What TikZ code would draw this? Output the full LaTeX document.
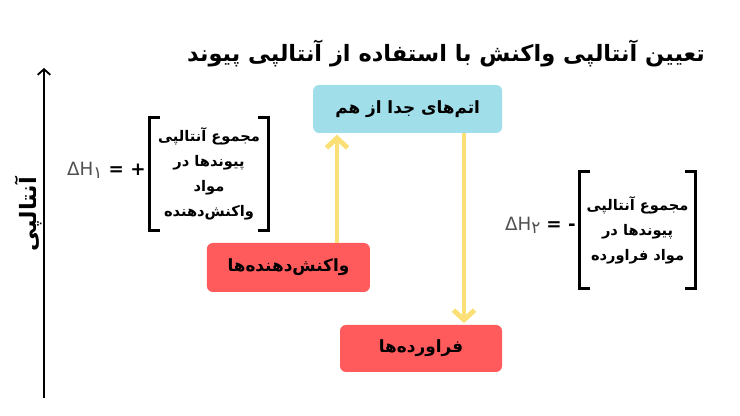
\documentclass[tikz,border=0pt]{standalone}
\usepackage{fontspec}
\setmainfont{DejaVu Sans}
\newfontfamily\arabicfont[Script=Arabic]{DejaVu Sans}
\TeXXeTstate=1
\usetikzlibrary{arrows,arrows.meta}

\definecolor{atomblue}{RGB}{160,222,233}
\definecolor{boxred}{RGB}{255,90,92}
\definecolor{arrowyellow}{RGB}{250,224,118}
\definecolor{deltagray}{RGB}{80,80,80}

\tikzset{
  statebox/.style={rounded corners=0.15cm, inner sep=0pt, align=center,
    font=\arabicfont\bfseries\fontsize{12}{14}\selectfont},
  sumtext/.style={inner sep=0pt, align=center,
    font=\arabicfont\bfseries\fontsize{10.4}{17.8}\selectfont},
  bracket/.style={line width=2.2pt},
  energy/.style={->, >={Straight Barb[length=7pt,width=15pt]}, line width=3.5pt, color=arrowyellow},
  deltah/.style={inner sep=0pt, font=\fontsize{13}{15}\selectfont}
}

\begin{document}
\begin{tikzpicture}
          \useasboundingbox (0,0) rectangle (18.5,10.4);
          \node[font=\arabicfont\bfseries\fontsize{16}{19}\selectfont] (title) at (11.15,9.05) {\beginR تعیین آنتالپی واکنش با استفاده از آنتالپی پیوند\endR};

          % energy axis
          \coordinate (axisbot) at (1.1,0.45);
          \coordinate (axistop) at (1.1,8.7);
          \draw[->, >={Straight Barb[length=4pt,width=9pt]}, line width=1.3pt] (axisbot) -- (axistop);
          \node[rotate=90, font=\arabicfont\bfseries\fontsize{16}{18}\selectfont] (axislabel) at (0.72,5.05) {\beginR آنتالپی\endR};

          % levels
          \node[statebox, fill=atomblue, minimum width=4.725cm, minimum height=1.2cm] (atoms) at (10.19,7.675) {\beginR اتم‌های جدا از هم\endR};
          \node[statebox, fill=boxred, minimum width=4.075cm, minimum height=1.225cm] (react) at (7.21,3.7125) {\beginR واکنش‌دهنده‌ها\endR};
          \node[statebox, fill=boxred, minimum width=4.05cm, minimum height=1.175cm] (prod) at (10.525,1.6875) {\beginR فراورده‌ها\endR};

          \coordinate (upx) at (8.425,0);
          \coordinate (downx) at (11.6,0);
          \draw[energy] (react.north -| upx) -- ([yshift=-1pt]atoms.south -| upx);
          \draw[energy] (atoms.south -| downx) -- ([yshift=1pt]prod.north -| downx);

          % bond enthalpy sums
          \node[sumtext, minimum width=2.95cm, minimum height=2.8cm] (sumreact) at (5.225,6.05) {\beginR مجموع آنتالپی\endR\\\beginR پیوندها در\endR\\\beginR مواد\endR\\\beginR واکنش‌دهنده\endR};
          \draw[bracket] ([xshift=0.25cm]sumreact.north west) -- (sumreact.north west) -- (sumreact.south west) -- ++(0.25cm,0);
          \draw[bracket] ([xshift=-0.25cm]sumreact.north east) -- (sumreact.north east) -- (sumreact.south east) -- ++(-0.25cm,0);
          \node[deltah, anchor=east] (dh1) at (3.65,6.15) {\textcolor{deltagray}{ΔH\raisebox{-2pt}{\arabicfont\fontsize{12}{14}\selectfont ۱}}\textbf{ = +}};

          \node[sumtext, minimum width=2.875cm, minimum height=2.9cm] (sumprod) at (15.94,4.65) {\beginR مجموع آنتالپی\endR\\\beginR پیوندها در\endR\\\beginR مواد فراورده\endR};
          \draw[bracket] ([xshift=0.25cm]sumprod.north west) -- (sumprod.north west) -- (sumprod.south west) -- ++(0.25cm,0);
          \draw[bracket] ([xshift=-0.25cm]sumprod.north east) -- (sumprod.north east) -- (sumprod.south east) -- ++(-0.25cm,0);
          \node[deltah, anchor=east] (dh2) at (14.4,4.775) {\textcolor{deltagray}{ΔH\raisebox{-2pt}{\arabicfont\fontsize{12}{14}\selectfont ۲}}\,\,\textbf{= -}};
        \end{tikzpicture}
\end{document}
